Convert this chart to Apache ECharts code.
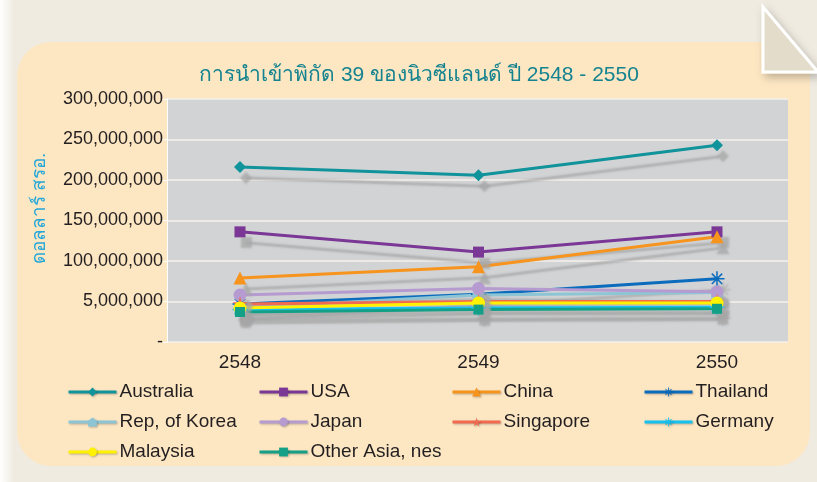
<!DOCTYPE html>
<html>
<head>
<meta charset="utf-8">
<script src="https://cdn.jsdelivr.net/npm/echarts@6/dist/echarts.min.js"></script>
<style>
  html, body { margin: 0; padding: 0; }
  body {
    width: 817px; height: 482px; position: relative; overflow: hidden;
    background: linear-gradient(to right, #ffffff 0px, #efebe1 14px, #efebe1 100%);
  }
  .panel {
    position: absolute; left: 17px; top: 42px; width: 793px; height: 424px;
    background: #fde7c3; border-radius: 34px;
  }
  .corner { position: absolute; left: 750px; top: 0; }
  #chart { position: absolute; left: 0; top: 0; width: 817px; height: 482px; }
</style>
</head>
<body>
<div class="panel"></div>
<svg class="corner" width="67" height="90">
  <defs>
    <filter id="sh" x="-30%" y="-30%" width="160%" height="160%">
      <feDropShadow dx="3" dy="4" stdDeviation="4" flood-color="#000" flood-opacity="0.25"/>
    </filter>
  </defs>
  <polygon points="13,7 13,72 68,72" fill="#e3dccb" stroke="#ffffff" stroke-width="3" filter="url(#sh)"/>
</svg>
<div id="chart"></div>
<script>
// ปี (หมวดหมู่แกน x)
const years = ['2548', '2549', '2550']
// ป้ายแกน y ตามต้นฉบับ
const yTickLabels = ['-', '5,000,000', '100,000,000', '150,000,000', '200,000,000', '250,000,000', '300,000,000']

// มูลค่านำเข้า (ดอลลาร์ สรอ.)
const australia = [216000000, 206000000, 243000000]
const usa = [136000000, 111000000, 136000000]
const china = [79000000, 93000000, 130000000]
const thailand = [47000000, 59000000, 78000000]
const korea = [42000000, 58000000, 61000000]
const japan = [58000000, 66000000, 62000000]
const singapore = [47000000, 50000000, 50000000]
const germany = [40000000, 42000000, 43000000]
const malaysia = [42000000, 48000000, 48000000]
const otherAsia = [37000000, 40000000, 41000000]

const asterisk = 'path://M45,0 L55,0 L55,100 L45,100 Z M0,45 L100,45 L100,55 L0,55 Z M12,19 L19,12 L88,81 L81,88 Z M81,12 L88,19 L19,88 L12,81 Z'
const star = 'path://M50,0 L61,35 L98,35 L68,57 L79,91 L50,70 L21,91 L32,57 L2,35 L39,35 Z'
const house = 'path://M0,35 L50,0 L100,35 L100,100 L0,100 Z'

const shadow = {
  shadowColor: 'rgba(165, 165, 165, 0.75)',
  shadowBlur: 2,
  shadowOffsetX: 6,
  shadowOffsetY: 11
}

function makeSeries(name, data, color, symbol, size) {
  return {
    name: name,
    type: 'line',
    xAxisIndex: 1,
    yAxisIndex: 1,
    data: data,
    symbol: symbol,
    symbolSize: size,
    showAllSymbol: true,
    color: color,
    lineStyle: Object.assign({ width: 3, color: color }, shadow),
    itemStyle: Object.assign({ color: color }, shadow),
    emphasis: { disabled: true }
  }
}

const chart = echarts.init(document.getElementById('chart'))

const textFont = "'Liberation Sans', 'Noto Sans', sans-serif"

const legendBase = {
  orient: 'vertical',
  top: 381,
  height: 100,
  padding: 0,
  itemWidth: 48,
  itemHeight: 11,
  itemGap: 8,
  lineStyle: { width: 3, shadowColor: 'rgba(0,0,0,0.25)', shadowBlur: 2, shadowOffsetX: 1, shadowOffsetY: 1 },
  itemStyle: { shadowColor: 'rgba(0,0,0,0.25)', shadowBlur: 2, shadowOffsetX: 1, shadowOffsetY: 1 },
  textStyle: { fontSize: 19, lineHeight: 22, color: '#231f20', fontFamily: textFont, padding: [0, 0, 0, -2] }
}

chart.setOption({
  backgroundColor: 'transparent',
  animation: false,
  title: {
    text: 'การนำเข้าพิกัด 39 ของนิวซีแลนด์ ปี 2548 - 2550',
    left: 414,
    textAlign: 'center',
    top: 60,
    textStyle: { fontSize: 21, fontWeight: 'normal', color: '#14838f', fontFamily: textFont }
  },
  legend: [
    Object.assign({}, legendBase, { left: 67, data: ['Australia', 'Rep, of Korea', 'Malaysia'] }),
    Object.assign({}, legendBase, { left: 258, data: ['USA', 'Japan', 'Other Asia, nes'] }),
    Object.assign({}, legendBase, { left: 451, data: ['China', 'Singapore'] }),
    Object.assign({}, legendBase, { left: 643, data: ['Thailand', 'Germany'] })
  ],
  grid: [
    { left: 167, right: 29, top: 99, bottom: 140, show: true, backgroundColor: '#d2d3d5', borderWidth: 0 },
    { left: 240, right: 100, top: 99, bottom: 140 }
  ],
  xAxis: [
    { type: 'category', gridIndex: 0, data: years, show: false },
    {
      type: 'category',
      gridIndex: 1,
      data: years,
      boundaryGap: false,
      axisLine: { show: false },
      axisTick: { show: false },
      axisLabel: { margin: 11, fontSize: 19, color: '#231f20', fontFamily: textFont }
    }
  ],
  yAxis: [
    {
      type: 'value',
      gridIndex: 0,
      min: 0,
      max: 300000000,
      interval: 50000000,
      name: 'ดอลลาร์ สรอ.',
      nameLocation: 'middle',
      nameGap: 118,
      nameRotate: 90,
      nameTextStyle: { fontSize: 19, color: '#27a8d8', fontFamily: textFont, padding: [0, 0, 0, 24] },
      axisLine: { show: true, lineStyle: { color: '#ffffff', width: 1 } },
      axisTick: { show: true, length: 4, lineStyle: { color: '#ffffff' } },
      splitLine: { lineStyle: { color: '#f4f1ec', width: 1.5 } },
      axisLabel: {
        margin: 4,
        fontSize: 18,
        color: '#231f20',
        fontFamily: textFont,
        formatter: function (v) { return yTickLabels[Math.round(v / 50000000)] }
      }
    },
    { type: 'value', gridIndex: 1, min: 0, max: 300000000, interval: 50000000, show: false }
  ],
  series: [
    makeSeries('Australia', australia, '#10939a', 'diamond', 12),
    makeSeries('USA', usa, '#7b3795', 'rect', 11),
    makeSeries('China', china, '#f7941d', 'triangle', 13),
    makeSeries('Thailand', thailand, '#0b6bbd', asterisk, 15),
    makeSeries('Rep, of Korea', korea, '#8ec5d5', house, 12),
    makeSeries('Japan', japan, '#b59bd0', 'circle', 13),
    makeSeries('Singapore', singapore, '#f26a4f', star, 15),
    makeSeries('Germany', germany, '#14c1f0', asterisk, 15),
    makeSeries('Malaysia', malaysia, '#fff200', 'circle', 13),
    makeSeries('Other Asia, nes', otherAsia, '#14a086', 'rect', 10)
  ]
})
</script>
</body>
</html>
